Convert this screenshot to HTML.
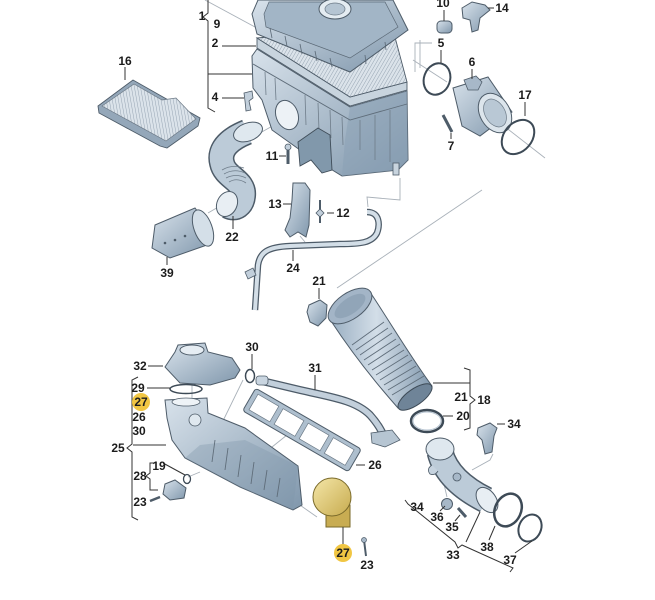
<!DOCTYPE html>
<html><head><meta charset="utf-8"><style>
body{margin:0;background:#fff}
svg{display:block}
text{font-family:"Liberation Sans",sans-serif;font-weight:bold;font-size:12px;fill:#1c1c1c;text-anchor:middle}
</style></head><body>
<svg width="655" height="600" viewBox="0 0 655 600" xmlns="http://www.w3.org/2000/svg">
<defs>
<linearGradient id="g" x1="0" y1="0" x2="1" y2="1"><stop offset="0" stop-color="#d8e2eb"/><stop offset="1" stop-color="#8097ac"/></linearGradient>
<linearGradient id="gh" x1="0" y1="0" x2="1" y2="0"><stop offset="0" stop-color="#9aafc2"/><stop offset="0.45" stop-color="#d3dee8"/><stop offset="1" stop-color="#8198ad"/></linearGradient>
<linearGradient id="gy" x1="0" y1="0" x2="1" y2="1"><stop offset="0" stop-color="#f4e6a8"/><stop offset="1" stop-color="#c7ab4e"/></linearGradient>
<pattern id="hatch" width="3" height="3" patternUnits="userSpaceOnUse" patternTransform="rotate(30)"><rect width="3" height="3" fill="#dbe3ea"/><line x1="0" y1="0" x2="0" y2="3" stroke="#8e9dac" stroke-width="0.9"/></pattern>
<pattern id="hatch2" width="3" height="3" patternUnits="userSpaceOnUse" patternTransform="rotate(-10)"><rect width="3" height="3" fill="#dbe3ea"/><line x1="0" y1="0" x2="0" y2="3" stroke="#8e9dac" stroke-width="0.9"/></pattern>
</defs>

<g stroke="#a9b1b9" stroke-width="0.9" fill="none">
<line x1="205" y1="0" x2="268" y2="34"/>
<polyline points="415,72 415,43 432,43"/>
<line x1="413" y1="60" x2="447" y2="82"/>
<line x1="500" y1="123" x2="545" y2="158"/>
<polyline points="400,178 400,200 367,197 368,207"/>
<line x1="482" y1="190" x2="337" y2="288"/>
<line x1="420" y1="40" x2="420" y2="68"/>
<line x1="260" y1="133" x2="276" y2="124"/>
<line x1="208" y1="213" x2="220" y2="206"/>
<line x1="300" y1="236" x2="305" y2="242"/>
<line x1="243" y1="380" x2="220" y2="427"/>
<line x1="287" y1="435" x2="262" y2="455"/>
<line x1="188" y1="477" x2="200" y2="472"/>
<line x1="297" y1="503" x2="317" y2="517"/>
<polyline points="472,470 490,460 493,454"/>
<line x1="192" y1="385" x2="192" y2="400"/>
<line x1="443" y1="480" x2="447" y2="497"/>
</g>

<polygon points="98,106 133,80 200,118 198,126 167,148 160,146 99,113" fill="#94a7b9" stroke="#4e5c69" stroke-width="0.9"/>
<polygon points="102,106 134,84 162,100 176,98 196,119 166,141" fill="url(#hatch2)" stroke="#6b7885" stroke-width="0.7"/>

<polygon points="257,48 350,106 407,90 407,82 350,97 257,38" fill="#c8d4de" stroke="#4e5c69" stroke-width="0.9"/>
<polygon points="257,38 392,26 407,82 350,97" fill="url(#hatch)" stroke="#4e5c69" stroke-width="0.9"/>

<polygon points="252,56 257,49 350,107 407,91 408,160 398,170 342,176 300,150 272,130 262,100 253,88" fill="url(#g)" stroke="#4e5c69"/>
<polygon points="350,107 407,91 408,160 398,170 342,176 345,140" fill="#8aa0b4" opacity="0.55"/>
<polyline points="253,64 350,120 407,104" fill="none" stroke="#5f6d7a" stroke-width="0.9"/>
<g stroke="#6f7d8a" stroke-width="0.8">
<line x1="265" y1="72" x2="266" y2="95"/><line x1="275" y1="78" x2="276" y2="100"/>
<line x1="305" y1="95" x2="306" y2="125"/><line x1="318" y1="103" x2="319" y2="130"/>
<line x1="330" y1="110" x2="331" y2="138"/><line x1="342" y1="117" x2="343" y2="145"/>
<line x1="360" y1="120" x2="360" y2="150"/><line x1="375" y1="115" x2="375" y2="160"/>
<line x1="390" y1="110" x2="390" y2="162"/>
</g>
<ellipse cx="287" cy="115" rx="11" ry="15" transform="rotate(-20 287 115)" fill="#edf2f6" stroke="#4e5c69"/>
<polygon points="298,142 318,128 330,135 332,170 322,173 311,160 300,166" fill="#8198ab" stroke="#3f4c58" stroke-width="0.9"/>
<rect x="393" y="163" width="6" height="12" fill="#c8d4de" stroke="#4e5c69" stroke-width="0.8"/>

<polygon points="252,14 258,0 393,0 408,30 350,72 257,34" fill="url(#g)" stroke="#4e5c69"/>
<polygon points="264,14 269,2 385,2 398,27 350,58 266,27" fill="#a2b5c6" stroke="#5a6875" stroke-width="0.7"/>
<ellipse cx="335" cy="9" rx="16" ry="10" fill="#e4ecf2" stroke="#4e5c69"/>
<ellipse cx="335" cy="9" rx="10" ry="6" fill="#b5c5d3" stroke="#6a7885" stroke-width="0.7"/>
<g stroke="#5a6875" stroke-width="0.8">
<line x1="270" y1="28" x2="272" y2="38"/><line x1="285" y1="36" x2="287" y2="46"/><line x1="300" y1="44" x2="302" y2="54"/><line x1="315" y1="51" x2="317" y2="61"/><line x1="330" y1="58" x2="332" y2="67"/><line x1="365" y1="55" x2="366" y2="64"/><line x1="385" y1="42" x2="386" y2="50"/>
</g>

<polygon points="244,93 252,91 253,98 249,101 251,110 246,111 245,101" fill="#c2cfdb" stroke="#4e5c69" stroke-width="0.8"/>
<line x1="288" y1="147" x2="288" y2="164" stroke="#4e5c69" stroke-width="3"/>
<circle cx="288" cy="147" r="3" fill="#c2cfdb" stroke="#4e5c69" stroke-width="0.8"/>

<path d="M247,132 C232,138 218,148 222,163 C225,178 245,180 243,196 C242,205 236,210 228,206" stroke="#4d5b68" stroke-width="26" fill="none"/>
<path d="M247,132 C232,138 218,148 222,163 C225,178 245,180 243,196 C242,205 236,210 228,206" stroke="#bccbd8" stroke-width="23" fill="none"/>
<g stroke="#6f7d8a" stroke-width="0.8" fill="none">
<path d="M222,170 q10,-6 22,-2"/><path d="M224,174 q10,-6 21,-1"/><path d="M226,178 q10,-5 20,0"/><path d="M229,182 q8,-5 17,1"/>
</g>
<ellipse cx="248" cy="132" rx="15" ry="9" transform="rotate(-20 248 132)" fill="#dfe8ef" stroke="#4e5c69"/>
<ellipse cx="227" cy="204" rx="10" ry="13" transform="rotate(25 227 204)" fill="#e8eef3" stroke="#4e5c69"/>

<polygon points="155,225 195,208 210,228 207,245 170,258 152,248" fill="url(#g)" stroke="#4e5c69"/>
<ellipse cx="203" cy="228" rx="9" ry="19" transform="rotate(-20 203 228)" fill="#d4dfe8" stroke="#4e5c69"/>
<g fill="#4e5c69"><circle cx="165" cy="243" r="1.3"/><circle cx="175" cy="240" r="1.3"/><circle cx="185" cy="236" r="1.3"/></g>

<polygon points="293,183 305,183 310,190 309,225 306,237 298,232 290,237 285,230 290,218 292,200" fill="url(#g)" stroke="#4e5c69"/>
<line x1="320" y1="200" x2="320" y2="223" stroke="#4e5c69" stroke-width="2"/>
<polygon points="316,213 320,209 324,213 320,217" fill="#c2cfdb" stroke="#4e5c69" stroke-width="0.8"/>

<path d="M367,212 C380,212 380,225 377,233 C372,243 360,244 340,244 L290,246 C268,247 260,252 258,265 L255,310" stroke="#4d5b68" stroke-width="6.5" fill="none"/>
<path d="M367,212 C380,212 380,225 377,233 C372,243 360,244 340,244 L290,246 C268,247 260,252 258,265 L255,310" stroke="#d3dee7" stroke-width="4" fill="none"/>
<polygon points="245,272 253,268 256,275 248,279" fill="#c2cfdb" stroke="#4e5c69" stroke-width="0.8"/>

<polygon points="309,305 320,300 327,305 326,318 318,326 310,322 307,312" fill="url(#g)" stroke="#4e5c69"/>

<path d="M331,321 C350,350 375,382 398,408 L432,386 C410,356 390,322 370,292 Z" fill="url(#gh)" stroke="#4e5c69"/>
<g stroke="#5f6d7a" stroke-width="0.9">
<line x1="352" y1="345" x2="384" y2="322"/><line x1="356" y1="350" x2="388" y2="328"/><line x1="360" y1="355" x2="392" y2="333"/>
<line x1="364" y1="360" x2="396" y2="339"/><line x1="368" y1="365" x2="400" y2="344"/><line x1="372" y1="370" x2="404" y2="350"/>
<line x1="376" y1="375" x2="408" y2="355"/><line x1="380" y1="380" x2="412" y2="360"/><line x1="384" y1="385" x2="416" y2="366"/>
<line x1="388" y1="390" x2="420" y2="371"/><line x1="392" y1="395" x2="424" y2="376"/>
</g>
<ellipse cx="350" cy="306" rx="25" ry="13" transform="rotate(-35 350 306)" fill="#a3b5c7" stroke="#4e5c69"/>
<ellipse cx="350" cy="306" rx="18" ry="8" transform="rotate(-35 350 306)" fill="#7f95aa" opacity="0.5"/>
<ellipse cx="415" cy="397" rx="20" ry="8" transform="rotate(-35 415 397)" fill="#6f8498" stroke="#3d4a56"/>

<ellipse cx="427" cy="421" rx="16" ry="11" fill="none" stroke="#3d4a56" stroke-width="2.5"/>
<ellipse cx="427" cy="421" rx="14" ry="9" fill="none" stroke="#b6c4d1" stroke-width="1"/>

<polygon points="478,428 490,423 497,428 494,436 492,452 485,454 482,440 477,435" fill="url(#g)" stroke="#4e5c69"/>

<path d="M440,452 C445,472 462,488 486,500" stroke="#4d5b68" stroke-width="27" fill="none"/>
<path d="M440,452 C445,472 462,488 486,500" stroke="#bccbd8" stroke-width="24" fill="none"/>
<ellipse cx="440" cy="449" rx="14" ry="11" fill="#dfe8ef" stroke="#4e5c69"/>
<ellipse cx="487" cy="500" rx="9" ry="14" transform="rotate(-35 487 500)" fill="#e8eef3" stroke="#4e5c69"/>
<circle cx="457" cy="477" r="4" fill="#a7b8c8" stroke="#4e5c69" stroke-width="0.8"/>
<path d="M432,465 q-6,4 -2,9 q5,2 8,-3" fill="#c6d3df" stroke="#4e5c69" stroke-width="0.8"/>

<ellipse cx="508" cy="510" rx="13" ry="17" transform="rotate(25 508 510)" fill="none" stroke="#3d4a56" stroke-width="2.5"/>
<ellipse cx="530" cy="528" rx="11" ry="14" transform="rotate(25 530 528)" fill="none" stroke="#3d4a56" stroke-width="2"/>
<circle cx="447" cy="504" r="5.5" fill="#a7b8c8" stroke="#4e5c69"/>
<line x1="458" y1="508" x2="466" y2="517" stroke="#4e5c69" stroke-width="3"/>

<rect x="437" y="21" width="15" height="12" rx="4" fill="url(#g)" stroke="#4e5c69"/>
<polygon points="462,8 472,2 485,5 490,10 480,18 478,30 472,32 470,20 463,18" fill="url(#g)" stroke="#4e5c69"/>
<ellipse cx="437" cy="79" rx="13" ry="16" transform="rotate(20 437 79)" fill="none" stroke="#3d4a56" stroke-width="2"/>
<polygon points="453,88 488,77 512,112 480,136 462,126" fill="url(#g)" stroke="#4e5c69"/>
<ellipse cx="495" cy="113" rx="15" ry="21" transform="rotate(-30 495 113)" fill="#dce5ec" stroke="#4e5c69"/>
<ellipse cx="495" cy="113" rx="10" ry="15" transform="rotate(-30 495 113)" fill="#b9c8d5" stroke="#6a7885" stroke-width="0.7"/>
<polygon points="464,80 476,76 482,82 478,90 468,90" fill="#a7b8c8" stroke="#4e5c69" stroke-width="0.8"/>
<ellipse cx="518" cy="137" rx="14" ry="19" transform="rotate(40 518 137)" fill="none" stroke="#3d4a56" stroke-width="2"/>
<line x1="443" y1="115" x2="452" y2="132" stroke="#4e5c69" stroke-width="3"/>

<polygon points="165,400 207,398 208,413 245,428 298,466 302,505 293,510 240,487 185,458 172,440 167,418" fill="url(#g)" stroke="#4e5c69"/>
<polygon points="185,458 240,487 293,510 298,466 245,440 200,445" fill="#7f95aa" opacity="0.35"/>
<g stroke="#5f6d7a" stroke-width="0.9">
<line x1="215" y1="440" x2="212" y2="462"/><line x1="228" y1="448" x2="225" y2="470"/><line x1="241" y1="455" x2="238" y2="477"/>
<line x1="254" y1="462" x2="251" y2="484"/><line x1="267" y1="470" x2="264" y2="490"/><line x1="280" y1="478" x2="277" y2="497"/>
</g>
<ellipse cx="186" cy="402" rx="14" ry="4" fill="#eef3f7" stroke="#4e5c69" stroke-width="0.8"/>
<circle cx="195" cy="420" r="6" fill="#dfe8ef" stroke="#4e5c69" stroke-width="0.8"/>

<polygon points="165,367 175,352 178,345 205,343 208,352 232,358 240,370 235,378 210,385 180,383" fill="url(#g)" stroke="#4e5c69"/>
<ellipse cx="192" cy="350" rx="12" ry="5" fill="#e6edf3" stroke="#4e5c69"/>
<ellipse cx="186" cy="389" rx="16" ry="4.5" fill="none" stroke="#3d4a56" stroke-width="1.5"/>
<ellipse cx="250" cy="376" rx="4.5" ry="6.5" fill="none" stroke="#3d4a56" stroke-width="1.5"/>
<ellipse cx="187" cy="479" rx="3.5" ry="4.5" fill="none" stroke="#3d4a56" stroke-width="1.3"/>
<polygon points="165,484 175,480 186,488 184,498 170,500 163,494" fill="url(#g)" stroke="#4e5c69"/>
<line x1="150" y1="501" x2="160" y2="497" stroke="#4e5c69" stroke-width="2.5"/>

<path d="M262,381 L300,390 C330,397 355,400 370,415 C378,424 381,430 384,436" stroke="#4d5b68" stroke-width="8" fill="none"/>
<path d="M262,381 L300,390 C330,397 355,400 370,415 C378,424 381,430 384,436" stroke="#c2cfdb" stroke-width="5.5" fill="none"/>
<rect x="256" y="376" width="12" height="9" rx="3" fill="#c9d5e0" stroke="#4e5c69" stroke-width="0.8"/>
<polygon points="371,433 392,430 400,440 385,447 372,443" fill="#b6c5d2" stroke="#4e5c69" stroke-width="0.8"/>

<g transform="rotate(30 302 430)">
<rect x="241" y="417" width="122" height="26" rx="3" fill="#aebfce" stroke="#4e5c69"/>
<rect x="246" y="421" width="24" height="18" fill="#fff" stroke="#6a7885" stroke-width="0.7"/>
<rect x="275" y="421" width="24" height="18" fill="#fff" stroke="#6a7885" stroke-width="0.7"/>
<rect x="304" y="421" width="24" height="18" fill="#fff" stroke="#6a7885" stroke-width="0.7"/>
<rect x="333" y="421" width="24" height="18" fill="#fff" stroke="#6a7885" stroke-width="0.7"/>
</g>

<rect x="326" y="505" width="24" height="22" fill="#c8ac52" stroke="#7a6a2a"/>
<circle cx="332" cy="497" r="19" fill="url(#gy)" stroke="#7a6a2a"/>
<line x1="364" y1="540" x2="366" y2="556" stroke="#4e5c69" stroke-width="2"/>
<circle cx="364" cy="540" r="2.5" fill="#a7b8c8" stroke="#4e5c69" stroke-width="0.7"/>

<g stroke="#333" stroke-width="1" fill="none">
<path d="M208,0 L208,13 L203,17 L208,21 L208,108 L215,112"/>
<path d="M138,377 L132,380 L132,444 L127,448 L132,452 L132,517 L138,520"/>
<path d="M133,445 L166,445"/>
<path d="M155,463 L150,463 L150,473 L146,476 L150,479 L150,490 L158,490"/>
<path d="M163,463 L185,475"/>
<path d="M464,368 L470,370 L470,396 L475,400 L470,404 L470,428 L464,430"/>
<path d="M405,500 L408,504 L455,542 L458,548 L462,545 L513,568 L510,572"/>
</g>

<g stroke="#333" stroke-width="1">
<line x1="222" y1="46" x2="256" y2="46"/>
<line x1="208" y1="74" x2="252" y2="74"/>
<line x1="222" y1="98" x2="244" y2="98"/>
<line x1="125" y1="67" x2="125" y2="80"/>
<line x1="279" y1="156" x2="286" y2="156"/>
<line x1="283" y1="204" x2="291" y2="204"/>
<line x1="327" y1="213" x2="334" y2="213"/>
<line x1="233" y1="216" x2="233" y2="229"/>
<line x1="167" y1="257" x2="167" y2="265"/>
<line x1="293" y1="250" x2="293" y2="261"/>
<line x1="319" y1="288" x2="319" y2="299"/>
<line x1="444" y1="10" x2="444" y2="21"/>
<line x1="488" y1="8" x2="494" y2="8"/>
<line x1="441" y1="50" x2="441" y2="63"/>
<line x1="472" y1="69" x2="472" y2="79"/>
<line x1="525" y1="102" x2="525" y2="116"/>
<line x1="451" y1="133" x2="451" y2="139"/>
<line x1="148" y1="366" x2="163" y2="366"/>
<line x1="252" y1="354" x2="252" y2="369"/>
<line x1="147" y1="388" x2="170" y2="388"/>
<line x1="315" y1="375" x2="315" y2="390"/>
<line x1="356" y1="465" x2="365" y2="465"/>
<line x1="343" y1="527" x2="343" y2="545"/>
<line x1="433" y1="383" x2="470" y2="383"/>
<line x1="443" y1="416" x2="453" y2="416"/>
<line x1="497" y1="424" x2="505" y2="424"/>
<line x1="495" y1="526" x2="489" y2="540"/>
<line x1="532" y1="541" x2="515" y2="553"/>
<line x1="466" y1="542" x2="480" y2="512"/>
<line x1="440" y1="511" x2="445" y2="506"/>
<line x1="455" y1="521" x2="460" y2="515"/>
</g>

<circle cx="141" cy="402" r="9" fill="#f1c643"/>
<circle cx="343" cy="553" r="9" fill="#f1c643"/>

<text x="202" y="20">1</text>
<text x="217" y="28">9</text>
<text x="215" y="47">2</text>
<text x="215" y="101">4</text>
<text x="125" y="65">16</text>
<text x="272" y="160">11</text>
<text x="275" y="208">13</text>
<text x="343" y="217">12</text>
<text x="232" y="241">22</text>
<text x="167" y="277">39</text>
<text x="293" y="272">24</text>
<text x="319" y="285">21</text>
<text x="443" y="7">10</text>
<text x="502" y="12">14</text>
<text x="441" y="47">5</text>
<text x="472" y="66">6</text>
<text x="525" y="99">17</text>
<text x="451" y="150">7</text>
<text x="140" y="370">32</text>
<text x="252" y="351">30</text>
<text x="138" y="392">29</text>
<text x="141" y="406">27</text>
<text x="139" y="421">26</text>
<text x="139" y="435">30</text>
<text x="118" y="452">25</text>
<text x="140" y="480">28</text>
<text x="159" y="470">19</text>
<text x="140" y="506">23</text>
<text x="315" y="372">31</text>
<text x="375" y="469">26</text>
<text x="343" y="557">27</text>
<text x="367" y="569">23</text>
<text x="461" y="401">21</text>
<text x="484" y="404">18</text>
<text x="463" y="420">20</text>
<text x="514" y="428">34</text>
<text x="417" y="511">34</text>
<text x="437" y="521">36</text>
<text x="452" y="531">35</text>
<text x="453" y="559">33</text>
<text x="487" y="551">38</text>
<text x="510" y="564">37</text>
</svg>
</body></html>
